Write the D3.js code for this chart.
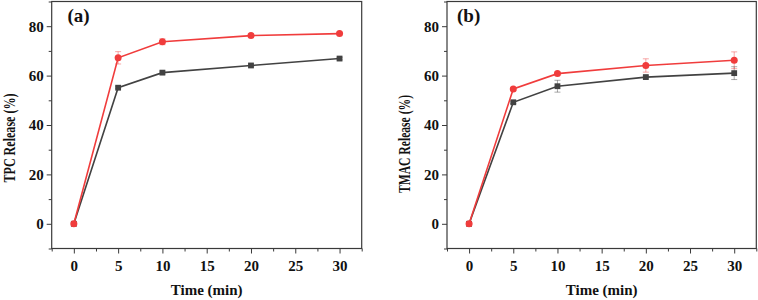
<!DOCTYPE html>
<html>
<head>
<meta charset="utf-8">
<script src="https://cdn.jsdelivr.net/npm/d3@7"></script>
<style>
  body { margin: 0; background: #fff; }
  svg text { font-family: "Liberation Serif", "Times New Roman", serif; font-weight: bold; fill: #111; }
</style>
</head>
<body>
<svg id="chart" width="758" height="300"></svg>
<script>
// data
var times = [0, 5, 10, 20, 30];
var tpcRed = [0, 67.2, 73.7, 76.2, 77.0];
var tpcRedErr = [0, 2.5, 1.2, 0.6, 0.5];
var tpcBlack = [0, 55.1, 61.2, 64.1, 66.9];
var tpcBlackErr = [0, 0.4, 0.6, 0.5, 0.5];
var tmacRed = [0, 54.6, 60.8, 64.1, 66.2];
var tmacRedErr = [0, 0.6, 0.6, 2.7, 3.4];
var tmacBlack = [0, 49.2, 55.7, 59.4, 61.0];
var tmacBlackErr = [0, 0.5, 2.4, 0.7, 2.6];
var xTicks = [0, 5, 10, 15, 20, 25, 30];
var xMinor = [-2.5, 2.5, 7.5, 12.5, 17.5, 22.5, 27.5, 32.5];
var yTicks = [0, 20, 40, 60, 80];
var yMinor = [-10, 10, 30, 50, 70, 90];

var svg = d3.select("#chart");
var red = "#f03c3c", black = "#424242", frame = "#3a3a3a";
var serif = "'Liberation Serif', 'Times New Roman', serif";

function styleAxis(a) {
    a.attr("font-family", serif).attr("font-size", 15);
    a.select(".domain").remove();
    a.selectAll("line").attr("stroke", frame);
    a.selectAll("text").attr("fill", "#111");
}

function drawPanel(p) {
    var x = d3.scaleLinear().domain([-2.5, 32.5]).range([p.left, p.right]);
    var y = d3.scaleLinear().domain([-10, 90]).range([248.5, 1.5]);
    var g = svg.append("g");

    // minor ticks
    g.append("g").attr("transform", "translate(0,248.5)")
        .call(d3.axisBottom(x).tickValues(xMinor).tickSize(3).tickFormat(""))
        .call(styleAxis);
    g.append("g").attr("transform", "translate(" + p.left + ",0)")
        .call(d3.axisLeft(y).tickValues(yMinor).tickSize(3).tickFormat(""))
        .call(styleAxis);

    // major ticks
    g.append("g").attr("transform", "translate(0,248.5)")
        .call(d3.axisBottom(x).tickValues(xTicks).tickSize(5).tickPadding(7))
        .call(styleAxis);
    g.append("g").attr("transform", "translate(" + p.left + ",0)")
        .call(d3.axisLeft(y).tickValues(yTicks).tickSize(5).tickPadding(3))
        .call(styleAxis);

    // frame
    g.append("rect")
        .attr("x", p.left).attr("y", 1.5)
        .attr("width", p.right - p.left).attr("height", 247)
        .attr("fill", "none").attr("stroke", frame).attr("stroke-width", 1.2);

    var series = [
        {vals: p.black, err: p.blackErr, color: black, shape: "square"},
        {vals: p.red, err: p.redErr, color: red, shape: "circle"}
    ];

    series.forEach(function (s) {
        var pts = times.map(function (t, i) { return {t: t, v: s.vals[i], e: s.err[i]}; });

        var eb = g.append("g").attr("stroke", s.color).attr("stroke-opacity", 0.45).attr("stroke-width", 1);
        pts.filter(function (d) { return d.e > 0; }).forEach(function (d) {
            eb.append("line").attr("x1", x(d.t)).attr("x2", x(d.t)).attr("y1", y(d.v - d.e)).attr("y2", y(d.v + d.e));
            eb.append("line").attr("x1", x(d.t) - 3).attr("x2", x(d.t) + 3).attr("y1", y(d.v + d.e)).attr("y2", y(d.v + d.e));
            eb.append("line").attr("x1", x(d.t) - 3).attr("x2", x(d.t) + 3).attr("y1", y(d.v - d.e)).attr("y2", y(d.v - d.e));
        });

        g.append("path")
            .datum(pts)
            .attr("fill", "none")
            .attr("stroke", s.color)
            .attr("stroke-width", 1.6)
            .attr("d", d3.line().x(function (d) { return x(d.t); }).y(function (d) { return y(d.v); }));

        if (s.shape === "square") {
            g.selectAll(null).data(pts).enter().append("rect")
                .attr("x", function (d) { return x(d.t) - 2.9; })
                .attr("y", function (d) { return y(d.v) - 2.9; })
                .attr("width", 5.8).attr("height", 5.8)
                .attr("fill", s.color);
        } else {
            g.selectAll(null).data(pts).enter().append("circle")
                .attr("cx", function (d) { return x(d.t); })
                .attr("cy", function (d) { return y(d.v); })
                .attr("r", 3.5)
                .attr("fill", s.color);
        }
    });

    // panel letter
    g.append("text").attr("x", p.letterX).attr("y", 22).attr("font-size", "19px").text(p.letter);

    // axis titles
    g.append("text")
        .attr("x", (p.left + p.right) / 2).attr("y", 295)
        .attr("text-anchor", "middle").attr("font-size", "15px")
        .text("Time (min)");
    g.append("text")
        .attr("transform", "translate(" + p.ylabX + "," + p.ylabY + ") rotate(-90)")
        .attr("text-anchor", "middle").attr("font-size", "17px")
        .attr("textLength", p.ylabLen).attr("lengthAdjust", "spacingAndGlyphs")
        .text(p.ylabel);
}

drawPanel({left: 51.7, right: 361.7, red: tpcRed, redErr: tpcRedErr, black: tpcBlack, blackErr: tpcBlackErr,
    letter: "(a)", letterX: 67.5, ylabel: "TPC Release (%)", ylabX: 15, ylabY: 138, ylabLen: 89});
drawPanel({left: 447, right: 756.3, red: tmacRed, redErr: tmacRedErr, black: tmacBlack, blackErr: tmacBlackErr,
    letter: "(b)", letterX: 457, ylabel: "TMAC Release (%)", ylabX: 409.5, ylabY: 144, ylabLen: 98});
</script>
</body>
</html>
